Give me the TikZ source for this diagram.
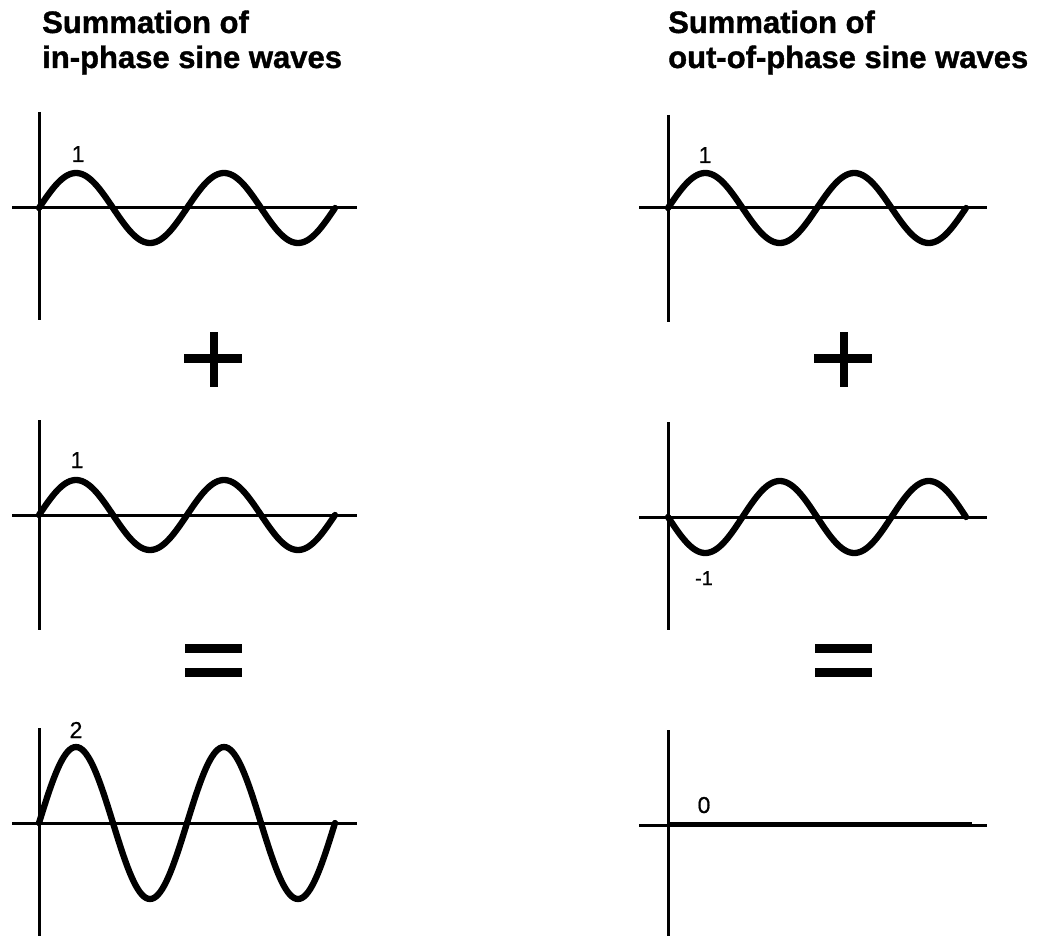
\documentclass[tikz,border=0pt]{standalone}
\usepackage{fontspec}
\setmainfont{Liberation Sans}
\newfontfamily\titlefont[FakeBold=1.2]{Liberation Sans Bold}
\newfontfamily\numfont[FakeBold=0.6]{Liberation Sans}
\begin{document}
\begin{tikzpicture}[x=1pt,y=-1pt,
  axis/.style={line width=3pt},
  wave/.style={line width=6.3pt, line join=round, line cap=round},
  title/.style={anchor=base west, inner sep=0pt, font=\titlefont\fontsize{31}{35}\selectfont},
  num/.style={anchor=base, inner sep=0pt, font=\numfont\fontsize{23}{25}\selectfont},
  smallnum/.style={anchor=base, inner sep=0pt, font=\numfont\fontsize{20}{22}\selectfont},
  bar/.style={fill=black, draw=none}]
\useasboundingbox (0,0) rectangle (1047,936);
% titles
\node[title] (t1a) at (42,33) {Summation of};
\node[title] (t1b) at (42,68) {in-phase sine waves};
\node[title] (t2a) at (668,33) {Summation of};
\node[title] (t2b) at (668,68) {out-of-phase sine waves};
% ---------- left column ----------
\draw[axis] (39,112) -- (39,320);
\draw[axis] (12,208) -- (357,208);
\draw[wave] plot[domain=0:720, samples=145, smooth] ({39+\x/360*148}, {208-35*sin(\x)});
\node[num] (l1) at (78,162) {1};
\draw[axis] (39,420) -- (39,630);
\draw[axis] (12,515) -- (357,515);
\draw[wave] plot[domain=0:720, samples=145, smooth] ({39+\x/360*148}, {515-35*sin(\x)});
\node[num] (l2) at (77,468) {1};
\draw[axis] (39,728) -- (39,936);
\draw[axis] (12,823) -- (357,823);
\draw[wave] plot[domain=0:720, samples=145, smooth] ({39+\x/360*148}, {823-76*sin(\x)});
\node[num] (l3) at (76,738) {2};
% plus and equals (left)
\fill[bar] (184,353.5) rectangle (242,362.5);
\fill[bar] (209.5,332) rectangle (217.5,387);
\fill[bar] (185,644) rectangle (242,653);
\fill[bar] (185,668) rectangle (242,677);
% ---------- right column ----------
\draw[axis] (668,115) -- (668,322);
\draw[axis] (639,208) -- (987,208);
\draw[wave] plot[domain=0:720, samples=145, smooth] ({668+\x/360*149}, {208-35*sin(\x)});
\node[num] (r1) at (705,163) {1};
\draw[axis] (668,422) -- (668,630);
\draw[axis] (639,517) -- (987,517);
\draw[wave] plot[domain=0:720, samples=145, smooth] ({668+\x/360*149}, {517+36*sin(\x)});
\node[smallnum] (r2) at (704,585) {-1};
\draw[axis] (668,730) -- (668,936);
\draw[axis] (639,825) -- (987,825);
\draw[line width=5pt] (668,824.5) -- (972,824.5);
\node[num] (r3) at (704,813) {0};
% plus and equals (right)
\fill[bar] (814,353.5) rectangle (872,362.5);
\fill[bar] (839.5,332) rectangle (847.5,387);
\fill[bar] (815,644) rectangle (872,653);
\fill[bar] (815,668) rectangle (872,677);
\end{tikzpicture}
\end{document}
